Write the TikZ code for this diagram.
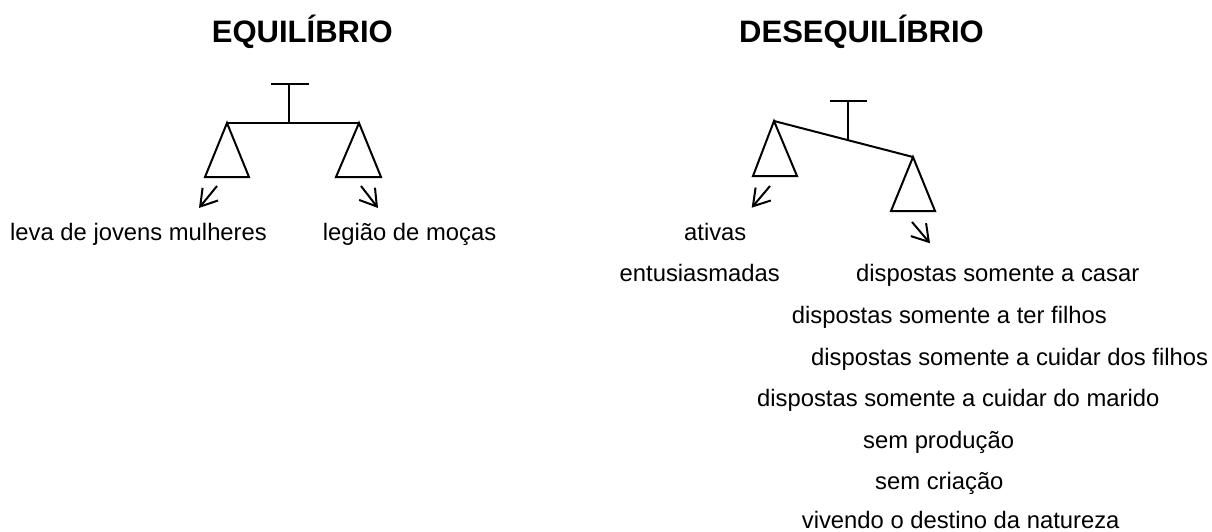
\documentclass[tikz,border=0pt]{standalone}
\usepackage{fontspec}
\setmainfont{Liberation Sans}
\usetikzlibrary{arrows.meta}
\begin{document}
\begin{tikzpicture}[x=1pt,y=-1pt,
  lbl/.style={anchor=base west,inner sep=0pt,font=\fontsize{23.8}{28}\selectfont},
  ttl/.style={anchor=base west,inner sep=0pt,font=\fontsize{31}{36}\selectfont\bfseries},
  bal/.style={line width=2pt,line join=miter},
  arr/.style={line width=2pt,-{Straight Barb[length=16pt,width=20pt,line width=2pt]}}]
\useasboundingbox (0,0) rectangle (1212,532);
% titles
\node[ttl] (t1) at (211.7,43) {EQUILÍBRIO};
\node[ttl] (t2) at (739,43) {DESEQUILÍBRIO};
% left balance
\coordinate (lp) at (289,123);
\coordinate (lL) at (227,123);
\coordinate (lR) at (359,123);
\draw[bal] (271,84) -- (309,84);
\draw[bal] (289,84) -- (lp);
\draw[bal] (lL) -- (lR);
\draw[bal] (lL) -- (205,177) -- (249,177) -- cycle;
\draw[bal] (lR) -- (336,177) -- (381,177) -- cycle;
\coordinate (la1) at (217,186); \coordinate (la2) at (199,208);
\coordinate (lb1) at (361,186); \coordinate (lb2) at (378,208);
\draw[arr] (la1) -- (la2);
\draw[arr] (lb1) -- (lb2);
% right balance
\coordinate (rp) at (848.3,140);
\coordinate (rL) at (774,121);
\coordinate (rR) at (913,157);
\draw[bal] (830,101) -- (867,101);
\draw[bal] (848.3,101) -- (rp);
\draw[bal] (rL) -- (rR);
\draw[bal] (rL) -- (753,176) -- (797,176) -- cycle;
\draw[bal] (rR) -- (891,211) -- (935,211) -- cycle;
\coordinate (ra1) at (770,186); \coordinate (ra2) at (751.7,207.7);
\coordinate (rb1) at (912,222); \coordinate (rb2) at (930,243.3);
\draw[arr] (ra1) -- (ra2);
\draw[arr] (rb1) -- (rb2);
% labels
\node[lbl] (n1) at (10,240.5) {leva de jovens mulheres};
\node[lbl] (n2) at (322.7,240.5) {legião de moças};
\node[lbl] (n3) at (684,240.5) {ativas};
\node[lbl] (n4) at (619.5,281.7) {entusiasmadas};
\node[lbl] (n5) at (856,281.7) {dispostas somente a casar};
\node[lbl] (n6) at (791.7,323) {dispostas somente a ter filhos};
\node[lbl] (n7) at (811,365) {dispostas somente a cuidar dos filhos};
\node[lbl] (n8) at (757,406.5) {dispostas somente a cuidar do marido};
\node[lbl] (n9) at (863,448) {sem produção};
\node[lbl] (n10) at (875,489.5) {sem criação};
\node[lbl] (n11) at (801.7,528) {vivendo o destino da natureza};
\end{tikzpicture}
\end{document}
